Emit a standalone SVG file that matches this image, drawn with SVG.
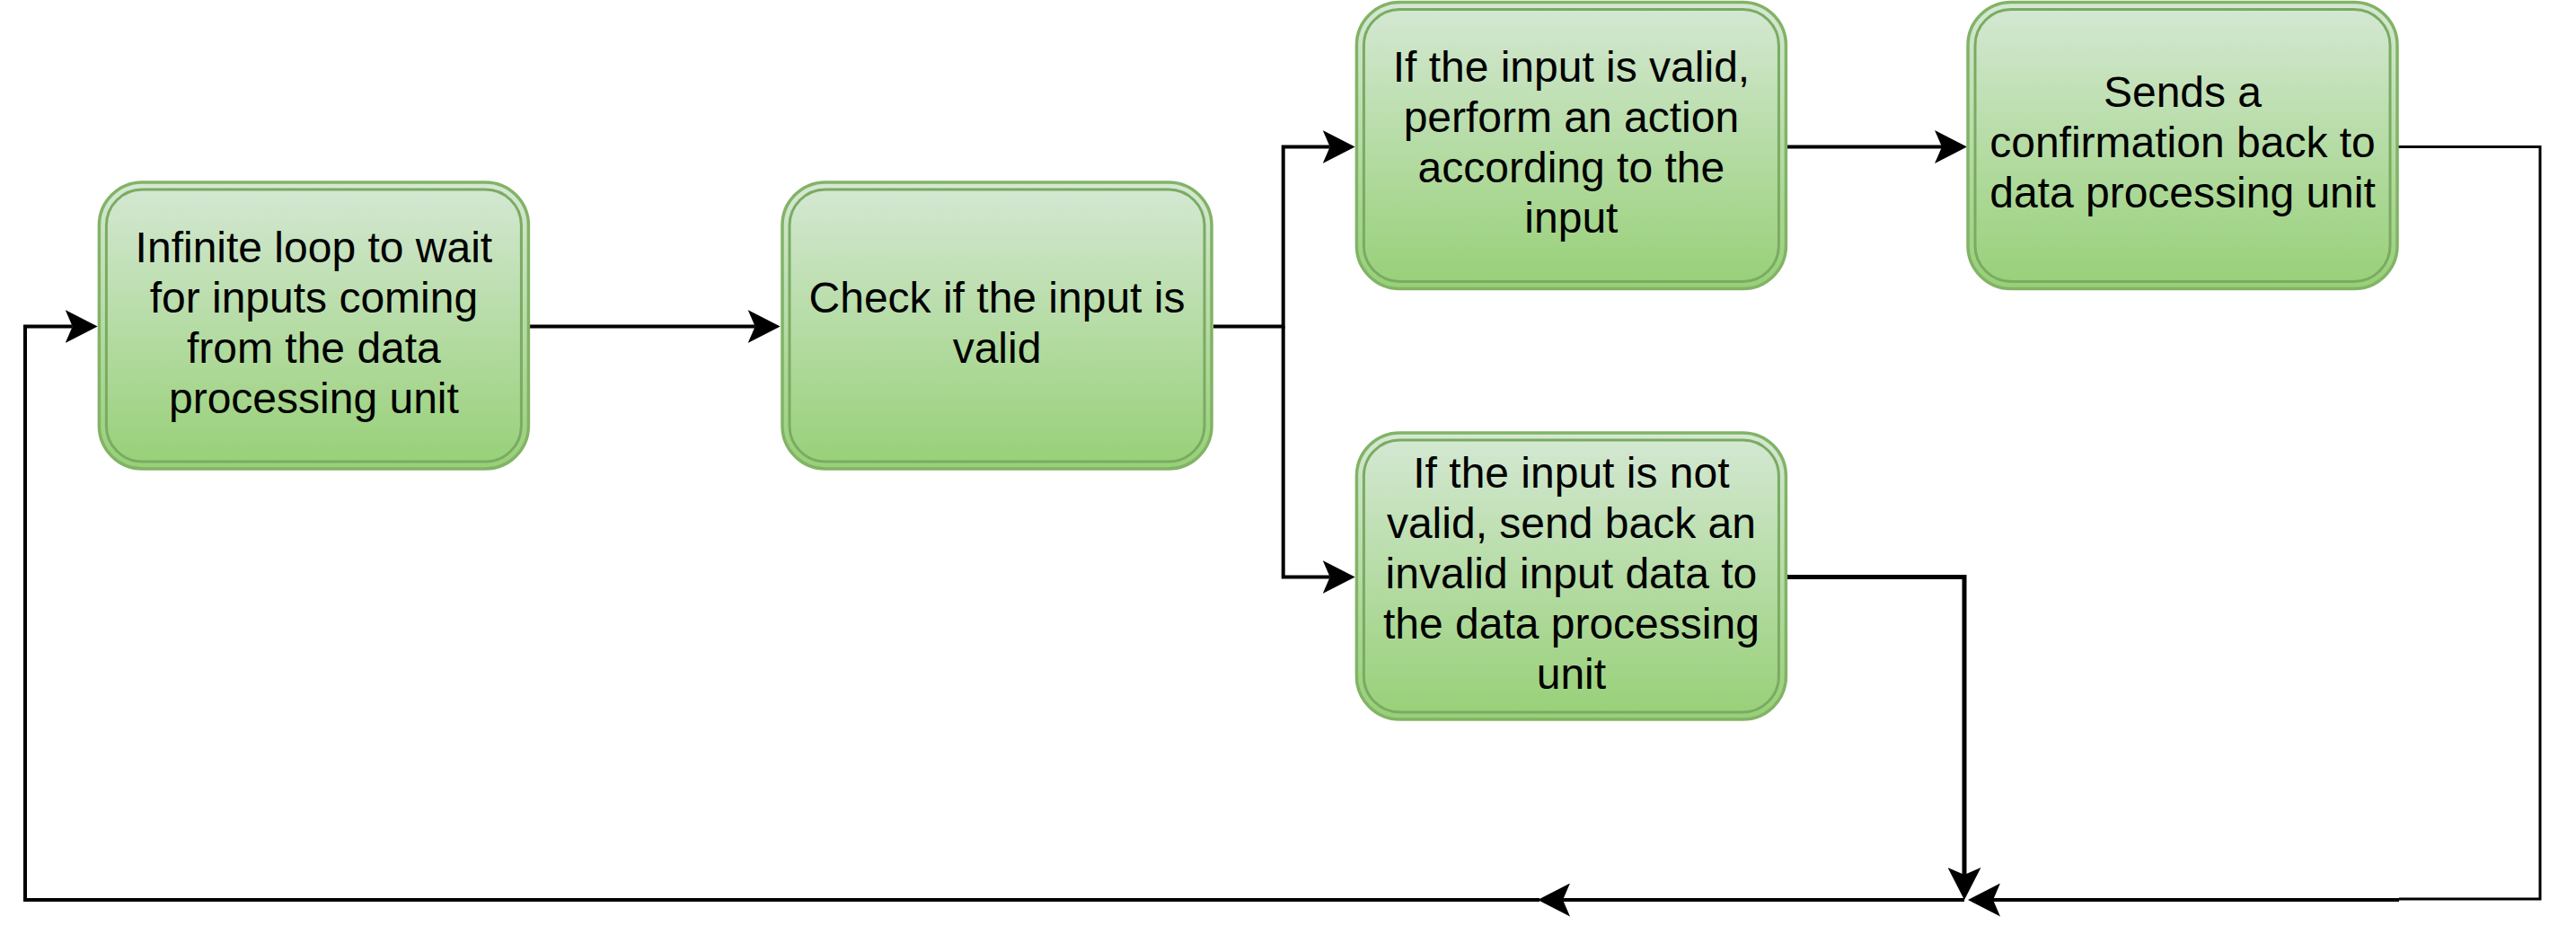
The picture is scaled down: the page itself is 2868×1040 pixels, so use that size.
<svg xmlns="http://www.w3.org/2000/svg" width="2868" height="1040" viewBox="0 0 2868 1040">
  <defs>
    <linearGradient id="gfill" x1="0" y1="0" x2="0" y2="1">
      <stop offset="0" stop-color="#d5e8d4"/>
      <stop offset="1" stop-color="#97d077"/>
    </linearGradient>
    <marker id="arr" viewBox="0 0 36 37" markerUnits="userSpaceOnUse" markerWidth="36" markerHeight="37" refX="8" refY="18.5" orient="auto">
      <path d="M36,18.5 L0,0 L8,18.5 L0,37 Z" fill="#000"/>
    </marker>
  </defs>
  <style>
    .outer { fill: url(#gfill); stroke: #82b366; stroke-width: 3.5; }
    .inner { fill: none; stroke: #7aab62; stroke-width: 3; }
    .lbl { font-family: "Liberation Sans", Arial, Helvetica, sans-serif; font-size: 48px; fill: #000; text-anchor: middle; }
    .edge { fill: none; stroke: #000; stroke-width: 4; }
    .arrow { marker-end: url(#arr); }
  </style>
  <rect width="2868" height="1040" fill="#ffffff"/>

  <g id="connectors">
    <path class="edge arrow" d="M590,363.5 H840.7"/>
    <path class="edge arrow" d="M1351,363.5 H1428.7 V163.5 H1480.7"/>
    <path class="edge arrow" d="M1428.7,363.5 V642.5 H1480.7"/>
    <path class="edge arrow" d="M1990,163.5 H2162"/>
    <path class="edge" style="stroke-width:3" d="M2670,163.5 H2828 V1001 H2671"/>
    <path class="edge arrow" d="M2671,1002 H2219"/>
    <path class="edge arrow" style="stroke-width:5" d="M1990,642.5 H2187 V974"/>
    <path class="edge arrow" d="M2187,1002 H1740"/>
    <path class="edge arrow" d="M1714,1002 H28 V363.5 H80.7"/>
  </g>

  <g id="node-wait">
    <rect class="outer" x="110.4" y="203" width="478" height="319" rx="48" ry="48"/>
    <rect class="inner" x="118.4" y="211" width="462" height="303" rx="40" ry="40"/>
    <text class="lbl" x="349.4" y="291.5">Infinite loop to wait</text>
    <text class="lbl" x="349.4" y="347.5">for inputs coming</text>
    <text class="lbl" x="349.4" y="403.5">from the data</text>
    <text class="lbl" x="349.4" y="459.5">processing unit</text>
  </g>

  <g id="node-check">
    <rect class="outer" x="871" y="203" width="478" height="319" rx="48" ry="48"/>
    <rect class="inner" x="879" y="211" width="462" height="303" rx="40" ry="40"/>
    <text class="lbl" x="1110" y="347.5">Check if the input is</text>
    <text class="lbl" x="1110" y="403.5">valid</text>
  </g>

  <g id="node-valid">
    <rect class="outer" x="1510.4" y="2.5" width="478" height="319" rx="48" ry="48"/>
    <rect class="inner" x="1518.4" y="10.5" width="462" height="303" rx="40" ry="40"/>
    <text class="lbl" x="1749.4" y="91">If the input is valid,</text>
    <text class="lbl" x="1749.4" y="147">perform an action</text>
    <text class="lbl" x="1749.4" y="203">according to the</text>
    <text class="lbl" x="1749.4" y="259">input</text>
  </g>

  <g id="node-confirm">
    <rect class="outer" x="2191" y="2.5" width="478" height="319" rx="48" ry="48"/>
    <rect class="inner" x="2199" y="10.5" width="462" height="303" rx="40" ry="40"/>
    <text class="lbl" x="2430" y="119">Sends a</text>
    <text class="lbl" x="2430" y="175">confirmation back to</text>
    <text class="lbl" x="2430" y="231">data processing unit</text>
  </g>

  <g id="node-invalid">
    <rect class="outer" x="1510.4" y="482" width="478" height="319" rx="48" ry="48"/>
    <rect class="inner" x="1518.4" y="490" width="462" height="303" rx="40" ry="40"/>
    <text class="lbl" x="1749.4" y="542.5">If the input is not</text>
    <text class="lbl" x="1749.4" y="598.5">valid, send back an</text>
    <text class="lbl" x="1749.4" y="654.5">invalid input data to</text>
    <text class="lbl" x="1749.4" y="710.5">the data processing</text>
    <text class="lbl" x="1749.4" y="766.5">unit</text>
  </g>
</svg>
